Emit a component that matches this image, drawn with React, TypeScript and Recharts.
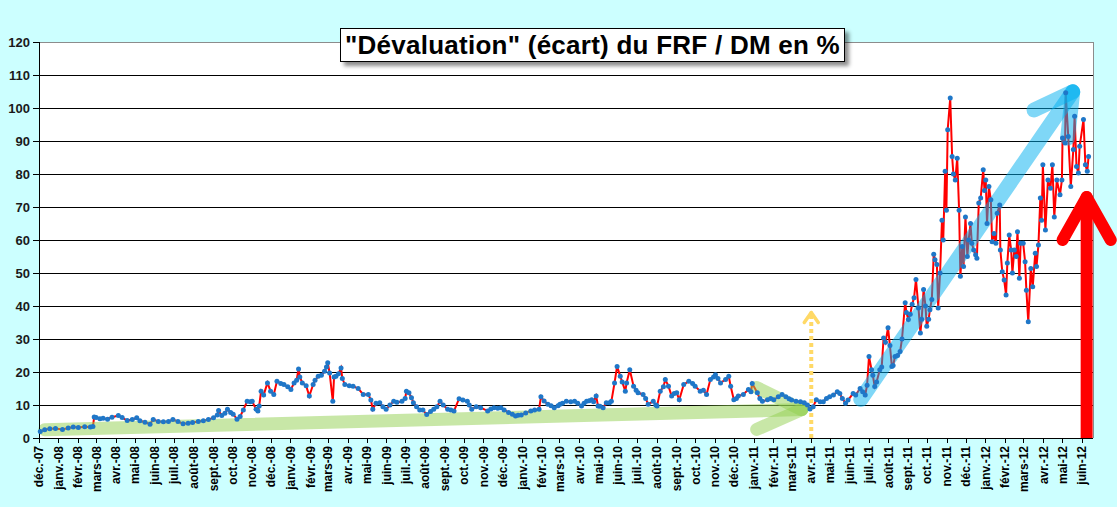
import React from 'react';
import { LineChart, Line, XAxis, YAxis, CartesianGrid, ReferenceLine } from 'recharts';

type Pt = [string, number];

// écart FRF / DM en %, relevés approximatifs ('MM-JJ', valeur)
const an2007: Pt[] = [['12-03', 2.0], ['12-10', 2.5], ['12-18', 2.8], ['12-27', 2.9]];

const an2008: Pt[] = [
  ['01-07', 2.6], ['01-16', 3.0], ['01-24', 3.3],
  ['02-01', 3.2], ['02-11', 3.4], ['02-20', 3.3], ['02-24', 3.5], ['02-26', 6.4], ['02-29', 6.2],
  ['03-06', 5.8], ['03-11', 6.0], ['03-18', 5.7], ['03-25', 6.3],
  ['04-04', 6.8], ['04-10', 6.2], ['04-18', 5.3], ['04-26', 5.6],
  ['05-03', 6.1], ['05-08', 5.2], ['05-16', 4.8], ['05-24', 4.2], ['05-29', 5.6],
  ['06-06', 5.0], ['06-14', 4.9], ['06-22', 5.0], ['06-29', 5.6],
  ['07-07', 5.0], ['07-15', 4.3], ['07-23', 4.5], ['07-30', 4.7],
  ['08-08', 5.0], ['08-16', 5.2], ['08-24', 5.6],
  ['09-01', 6.1], ['09-07', 7.0], ['09-09', 8.3], ['09-14', 6.8], ['09-19', 7.5], ['09-23', 8.7], ['09-28', 7.7],
  ['10-02', 7.2], ['10-08', 5.7], ['10-13', 6.5], ['10-18', 8.5], ['10-24', 11.1], ['10-29', 11.0],
  ['11-01', 11.1], ['11-07', 8.7], ['11-10', 8.2], ['11-12', 9.7], ['11-15', 14.2], ['11-19', 13.0], ['11-25', 16.7], ['11-30', 14.2],
  ['12-05', 13.2], ['12-10', 17.2], ['12-16', 16.5], ['12-21', 16.2], ['12-27', 15.5],
];

const an2009: Pt[] = [
  ['01-01', 14.7], ['01-06', 16.7], ['01-10', 17.5], ['01-13', 20.9], ['01-15', 18.5], ['01-19', 16.7], ['01-25', 15.8], ['01-30', 12.7],
  ['02-05', 16.2], ['02-08', 17.5], ['02-13', 18.7], ['02-18', 19.0], ['02-23', 20.2], ['02-26', 21.5], ['02-28', 22.8],
  ['03-03', 19.7], ['03-08', 11.1], ['03-10', 18.5], ['03-13', 18.7], ['03-17', 19.5], ['03-21', 21.2], ['03-23', 18.0], ['03-27', 16.2],
  ['04-03', 15.8], ['04-09', 15.7], ['04-17', 15.0], ['04-25', 13.2],
  ['05-03', 13.2], ['05-07', 11.5], ['05-10', 8.7], ['05-15', 10.5], ['05-21', 10.7], ['05-26', 9.5], ['05-31', 8.7],
  ['06-06', 10.0], ['06-12', 11.1], ['06-17', 10.8], ['06-25', 11.1], ['06-30', 12.0],
  ['07-02', 14.2], ['07-06', 13.7], ['07-10', 12.2], ['07-13', 10.7], ['07-18', 9.5], ['07-23', 8.5], ['07-28', 8.5],
  ['08-03', 7.1], ['08-09', 8.0], ['08-14', 8.7], ['08-19', 9.5], ['08-24', 11.1], ['08-29', 10.0],
  ['09-05', 8.7], ['09-10', 8.5], ['09-15', 8.2], ['09-23', 11.9], ['09-29', 11.5],
  ['10-06', 11.1], ['10-09', 10.0], ['10-13', 8.7], ['10-20', 9.5], ['10-27', 9.2],
  ['11-07', 8.2], ['11-12', 8.8], ['11-17', 9.2], ['11-23', 9.0], ['11-28', 9.2],
  ['12-03', 8.5], ['12-10', 7.7], ['12-16', 7.2], ['12-21', 6.7], ['12-25', 6.9], ['12-30', 7.0],
];

const an2010: Pt[] = [
  ['01-06', 7.6], ['01-14', 8.2], ['01-20', 8.5], ['01-27', 8.7], ['01-30', 12.5],
  ['02-04', 11.2], ['02-10', 10.2], ['02-15', 9.8], ['02-20', 9.2], ['02-26', 9.8],
  ['03-01', 10.2], ['03-05', 10.5], ['03-11', 11.1], ['03-18', 11.0], ['03-24', 11.1], ['03-29', 10.5],
  ['04-04', 9.7], ['04-08', 10.5], ['04-12', 11.1], ['04-16', 11.3], ['04-20', 11.6], ['04-23', 11.0], ['04-27', 12.7], ['04-30', 9.7],
  ['05-03', 9.6], ['05-08', 9.2], ['05-13', 10.7], ['05-18', 10.7], ['05-21', 11.1], ['05-26', 16.7], ['05-30', 21.7],
  ['06-04', 18.7], ['06-07', 17.0], ['06-12', 14.2], ['06-14', 16.7], ['06-19', 20.7], ['06-25', 15.7], ['06-29', 14.5],
  ['07-02', 13.7], ['07-10', 13.2], ['07-14', 12.0], ['07-18', 10.2], ['07-26', 11.1], ['07-30', 10.0],
  ['08-01', 9.7], ['08-06', 14.2], ['08-11', 15.5], ['08-14', 17.7], ['08-19', 15.7], ['08-24', 12.7], ['08-28', 13.5],
  ['09-01', 13.7], ['09-05', 11.6], ['09-12', 16.2], ['09-20', 17.2], ['09-26', 16.5], ['09-30', 15.7],
  ['10-08', 14.2], ['10-13', 14.5], ['10-18', 13.2], ['10-24', 17.7], ['10-29', 18.5],
  ['11-01', 19.2], ['11-05', 18.0], ['11-09', 16.7], ['11-17', 17.7], ['11-22', 18.7], ['11-25', 15.7], ['11-30', 11.6],
  ['12-04', 12.0], ['12-07', 12.7], ['12-15', 13.2], ['12-23', 14.7], ['12-27', 14.0], ['12-29', 16.5],
];

const an2011: Pt[] = [
  ['01-06', 13.7], ['01-10', 12.0], ['01-14', 11.1], ['01-22', 11.6], ['01-27', 12.0],
  ['02-01', 11.6], ['02-08', 12.5], ['02-14', 13.2], ['02-20', 12.5], ['02-25', 11.9],
  ['03-01', 11.5], ['03-08', 11.1], ['03-15', 11.0], ['03-21', 10.7], ['03-26', 10.0], ['03-30', 8.8],
  ['04-04', 9.5], ['04-09', 11.6], ['04-15', 11.0], ['04-20', 11.0], ['04-25', 12.0], ['04-30', 12.5],
  ['05-06', 13.0], ['05-12', 14.0], ['05-16', 13.5], ['05-20', 12.0], ['05-25', 10.5], ['05-29', 11.5],
  ['06-06', 13.5], ['06-10', 13.0], ['06-17', 15.0], ['06-21', 14.0], ['06-25', 13.0], ['06-28', 16.0],
  ['07-01', 24.7], ['07-05', 20.7], ['07-07', 19.0], ['07-10', 15.6], ['07-13', 17.0], ['07-18', 20.7], ['07-21', 21.5], ['07-24', 30.3], ['07-27', 29.0], ['07-31', 33.4],
  ['08-03', 28.0], ['08-06', 21.7], ['08-08', 22.0], ['08-11', 24.7], ['08-15', 25.0], ['08-19', 26.2], ['08-22', 30.0], ['08-27', 41.0], ['08-29', 38.0],
  ['09-01', 35.9], ['09-04', 37.5], ['09-07', 40.5], ['09-10', 42.5], ['09-13', 48.0], ['09-17', 39.4], ['09-20', 31.8], ['09-22', 36.0], ['09-25', 45.0], ['09-28', 40.0], ['09-30', 33.9],
  ['10-03', 36.0], ['10-05', 38.9], ['10-08', 42.0], ['10-11', 55.7], ['10-13', 54.0], ['10-16', 52.6], ['10-18', 39.4], ['10-21', 50.0], ['10-24', 66.0], ['10-26', 60.0], ['10-29', 80.8], ['10-31', 69.0],
  ['11-02', 93.4], ['11-06', 103.0], ['11-09', 85.3], ['11-11', 80.0], ['11-14', 78.2], ['11-17', 84.8], ['11-20', 69.0], ['11-22', 49.0], ['11-25', 58.0], ['11-27', 52.0], ['11-30', 67.0],
  ['12-03', 55.0], ['12-05', 60.0], ['12-08', 65.0], ['12-10', 59.0], ['12-13', 57.0], ['12-16', 55.5], ['12-18', 54.5], ['12-21', 71.2], ['12-24', 72.7], ['12-28', 81.3], ['12-30', 75.0],
];

const an2012: Pt[] = [
  ['01-01', 78.2], ['01-03', 65.0], ['01-06', 76.2], ['01-09', 72.2], ['01-11', 59.5], ['01-14', 62.0], ['01-17', 59.0], ['01-19', 68.1], ['01-23', 70.6], ['01-24', 57.0], ['01-27', 50.4], ['01-30', 47.9],
  ['02-02', 43.3], ['02-04', 53.0], ['02-07', 61.5], ['02-10', 57.0], ['02-12', 50.0], ['02-15', 57.0], ['02-18', 55.0], ['02-20', 62.5], ['02-23', 48.4], ['02-25', 59.0], ['02-29', 59.0],
  ['03-03', 53.4], ['03-05', 44.8], ['03-08', 35.2], ['03-12', 51.4], ['03-15', 45.8], ['03-19', 56.0], ['03-21', 52.0], ['03-24', 58.5], ['03-27', 72.7], ['03-29', 66.0], ['03-31', 82.8],
  ['04-04', 63.0], ['04-08', 78.2], ['04-12', 75.7], ['04-15', 82.8], ['04-18', 67.0], ['04-22', 78.2], ['04-27', 73.7], ['04-30', 78.2],
  ['05-01', 90.9], ['05-05', 89.4], ['05-06', 104.6], ['05-10', 91.4], ['05-14', 76.2], ['05-18', 87.4], ['05-20', 97.5], ['05-23', 82.3], ['05-26', 80.3], ['05-28', 88.4],
  ['06-03', 96.5], ['06-06', 82.8], ['06-09', 80.8], ['06-11', 85.3],
];

const annees: [number, Pt[]][] = [[2007, an2007], [2008, an2008], [2009, an2009], [2010, an2010], [2011, an2011], [2012, an2012]];

const moisFr = ['janv.', 'févr.', 'mars', 'avr.', 'mai', 'juin', 'juil.', 'août', 'sept.', 'oct.', 'nov.', 'déc.'];
const yTicks = [0, 10, 20, 30, 40, 50, 60, 70, 80, 90, 100, 110, 120];

const DEBUT = Date.UTC(2007, 11, 1);
const toJour = (annee: number, mois: number, j: number) => Math.round((Date.UTC(annee, mois - 1, j) - DEBUT) / 86400000);

const data = annees.flatMap(([annee, pts]) =>
  pts.map(([md, valeur]) => {
    const [m, j] = md.split('-').map(Number);
    return { jour: toJour(annee, m, j), valeur };
  })
);

// graduations : 1er de chaque mois, déc.-07 à juin-12
const xTicks: number[] = [];
const xLabels: Record<number, string> = {};
for (let k = 0; k < 55; k++) {
  const annee = 2007 + Math.floor((11 + k) / 12);
  const mois = ((11 + k) % 12) + 1;
  const jr = toJour(annee, mois, 1);
  xTicks.push(jr);
  xLabels[jr] = `${moisFr[mois - 1]}-${String(annee).slice(2)}`;
}
const FIN_AXE = toJour(2012, 6, 18);

// flèches d'annotation (jour, valeur)
const j = (annee: number, mois: number, jr: number) => toJour(annee, mois, jr);
const flecheVerte = {
  tige: [{ x: 9, y: 2.5 }, { x: j(2011, 3, 17), y: 8.6 }],
  haut: [{ x: j(2011, 3, 17), y: 8.6 }, { x: j(2011, 1, 5), y: 15.3 }],
  bas: [{ x: j(2011, 3, 17), y: 8.6 }, { x: j(2011, 1, 5), y: 2.6 }],
};
const flecheBleue = {
  tige: [{ x: j(2011, 6, 18), y: 11.7 }, { x: j(2012, 5, 17), y: 104.9 }],
  gauche: [{ x: j(2012, 5, 17), y: 104.9 }, { x: j(2012, 3, 17), y: 99.4 }],
  droite: [{ x: j(2012, 5, 17), y: 104.9 }, { x: j(2012, 5, 9), y: 90.9 }],
};
const flecheRouge = {
  tige: [{ x: j(2012, 6, 8), y: 0 }, { x: j(2012, 6, 8), y: 73 }],
  gauche: [{ x: j(2012, 6, 8), y: 73 }, { x: j(2012, 5, 1), y: 60 }],
  droite: [{ x: j(2012, 6, 8), y: 73 }, { x: j(2012, 7, 16), y: 60 }],
};
const flecheJaune = {
  tige: [{ x: j(2011, 4, 1), y: 0 }, { x: j(2011, 4, 1), y: 37.5 }],
  gauche: [{ x: j(2011, 4, 1), y: 38 }, { x: j(2011, 3, 21), y: 35 }],
  droite: [{ x: j(2011, 4, 1), y: 38 }, { x: j(2011, 4, 12), y: 35 }],
};

const FONT = '"Liberation Sans", Arial, sans-serif';

const MoisTick = (props: any) => {
  const { x, y, payload } = props;
  return (
    <text
      x={x}
      y={y}
      transform={`rotate(-90, ${x}, ${y})`}
      textAnchor="end"
      dominantBaseline="central"
      style={{ fontSize: 12, fontWeight: 700, fontFamily: FONT, fill: '#000' }}
    >
      {xLabels[payload.value]}
    </text>
  );
};

const ValeurTick = (props: any) => {
  const { x, y, payload } = props;
  return (
    <text
      x={x}
      y={y}
      textAnchor="end"
      dominantBaseline="central"
      style={{ fontSize: 13, fontWeight: 700, fontFamily: FONT, fill: '#1a1a1a' }}
    >
      {payload.value}
    </text>
  );
};

const App: React.FC = () => {
  return (
    <div style={{ position: 'absolute', left: 0, top: 0, width: 1117, height: 507, background: '#CCFFFF', overflow: 'hidden' }}>
      <LineChart width={1117} height={507} data={data} margin={{ top: 42, right: 24, bottom: 0, left: 0 }}>
        <CartesianGrid vertical={false} stroke="#000" fill="#fff" shapeRendering="crispEdges" />
        <XAxis
          type="number"
          dataKey="jour"
          domain={[0, FIN_AXE]}
          ticks={xTicks}
          interval={0}
          height={69}
          tickSize={5}
          tickMargin={3}
          tick={<MoisTick />}
          axisLine={{ stroke: '#000', shapeRendering: 'crispEdges' }}
          tickLine={{ stroke: '#000', shapeRendering: 'crispEdges' }}
        />
        <YAxis
          type="number"
          domain={[0, 120]}
          ticks={yTicks}
          interval={0}
          width={39}
          tickSize={6}
          tickMargin={3}
          tick={<ValeurTick />}
          axisLine={{ stroke: '#000', shapeRendering: 'crispEdges' }}
          tickLine={{ stroke: '#000', shapeRendering: 'crispEdges' }}
        />
        <ReferenceLine y={120} stroke="#8c8c8c" shapeRendering="crispEdges" />
        <ReferenceLine x={FIN_AXE} stroke="#8c8c8c" shapeRendering="crispEdges" />
        <Line
          type="linear"
          dataKey="valeur"
          stroke="#ff0000"
          strokeWidth={2}
          dot={{ r: 2.5, fill: '#1f77c8', stroke: 'none' }}
          isAnimationActive={false}
        />
        {Object.values(flecheVerte).map((s, i) => (
          <ReferenceLine key={`v${i}`} segment={s} stroke="#92D050" strokeOpacity={0.5} strokeWidth={13} strokeLinecap="round" ifOverflow="visible" />
        ))}
        {Object.values(flecheBleue).map((s, i) => (
          <ReferenceLine key={`b${i}`} segment={s} stroke="#00B0F0" strokeOpacity={0.5} strokeWidth={15} strokeLinecap="round" ifOverflow="visible" />
        ))}
        <ReferenceLine segment={flecheJaune.tige} stroke="#FFD966" strokeWidth={4} strokeDasharray="4 3" ifOverflow="visible" />
        <ReferenceLine segment={flecheJaune.gauche} stroke="#FFD966" strokeWidth={3.5} strokeLinecap="round" ifOverflow="visible" />
        <ReferenceLine segment={flecheJaune.droite} stroke="#FFD966" strokeWidth={3.5} strokeLinecap="round" ifOverflow="visible" />
        <ReferenceLine segment={flecheRouge.tige} stroke="#FF0000" strokeWidth={12} ifOverflow="visible" />
        <ReferenceLine segment={flecheRouge.gauche} stroke="#FF0000" strokeWidth={12} strokeLinecap="round" ifOverflow="visible" />
        <ReferenceLine segment={flecheRouge.droite} stroke="#FF0000" strokeWidth={12} strokeLinecap="round" ifOverflow="visible" />
      </LineChart>
      <div
        style={{
          position: 'absolute',
          left: 340,
          top: 28,
          width: 503,
          height: 32,
          background: '#fff',
          border: '1px solid #000',
          boxShadow: '4px 4px 4px rgba(0,0,0,0.45)',
          fontFamily: FONT,
          fontWeight: 'bold',
          fontSize: 26,
          letterSpacing: 0.25,
          lineHeight: '32px',
          textAlign: 'center',
          whiteSpace: 'nowrap',
          color: '#000',
        }}
      >
        "Dévaluation" (écart) du FRF / DM en %
      </div>
    </div>
  );
};

export default App;
